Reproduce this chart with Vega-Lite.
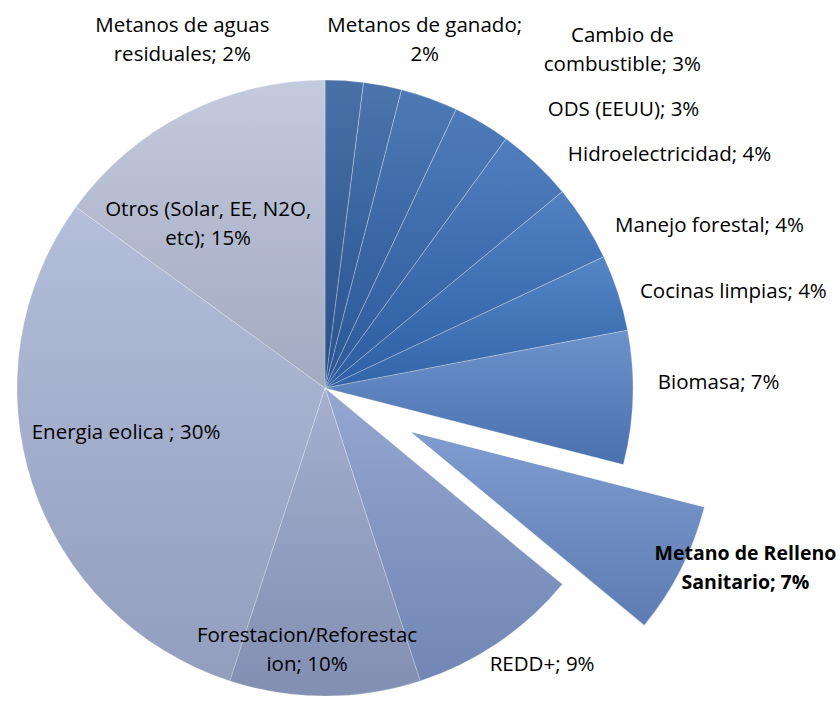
{
  "$schema": "https://vega.github.io/schema/vega-lite/v6.json",
  "width": 650,
  "height": 628,
  "autosize": "none",
  "padding": {"left": 0, "top": 74, "right": 190, "bottom": 0},
  "background": "white",
  "config": {"view": {"stroke": null}, "text": {"font": "Open Sans", "fontSize": 20.5, "lineHeight": 29, "color": "#000000"}},
  "data": {
    "values": [
      {"n": 1, "cat": "Metanos de aguas residuales", "value": 2, "label": "Metanos de aguas\nresiduales; 2%"},
      {"n": 2, "cat": "Metanos de ganado", "value": 2, "label": "Metanos de ganado;\n2%"},
      {"n": 3, "cat": "Cambio de combustible", "value": 3, "label": "Cambio de\ncombustible; 3%"},
      {"n": 4, "cat": "ODS (EEUU)", "value": 3, "label": "ODS (EEUU); 3%"},
      {"n": 5, "cat": "Hidroelectricidad", "value": 4, "label": "Hidroelectricidad; 4%"},
      {"n": 6, "cat": "Manejo forestal", "value": 4, "label": "Manejo forestal; 4%"},
      {"n": 7, "cat": "Cocinas limpias", "value": 4, "label": "Cocinas limpias; 4%"},
      {"n": 8, "cat": "Biomasa", "value": 7, "label": "Biomasa; 7%"},
      {"n": 9, "cat": "Metano de Relleno Sanitario", "value": 7, "label": "Metano de Relleno\nSanitario; 7%"},
      {"n": 10, "cat": "REDD+", "value": 9, "label": "REDD+; 9%"},
      {"n": 11, "cat": "Forestacion/Reforestacion", "value": 10, "label": "Forestacion/Reforestac\nion; 10%"},
      {"n": 12, "cat": "Energia eolica", "value": 30, "label": "Energia eolica ; 30%"},
      {"n": 13, "cat": "Otros (Solar, EE, N2O, etc)", "value": 15, "label": "Otros (Solar, EE, N2O,\netc); 15%"}
    ]
  },
  "transform": [
    {"stack": "value", "groupby": [], "sort": [{"field": "n", "order": "ascending"}], "as": ["v0", "v1"]},
    {"calculate": "(datum.v0 + datum.v1) / 2", "as": "mid"}
  ],
  "layer": [
    {
      "transform": [{"filter": "datum.cat !== 'Metano de Relleno Sanitario'"}],
      "mark": {"type": "arc", "radius": 308, "stroke": "#ffffff", "strokeWidth": 1, "strokeOpacity": 0.3},
      "encoding": {
        "theta": {"field": "v0", "type": "quantitative", "scale": {"domain": [0, 100]}},
        "theta2": {"field": "v1"},
        "color": {
          "field": "cat", "type": "nominal", "legend": null,
          "scale": {
            "domain": ["Metanos de aguas residuales", "Metanos de ganado", "Cambio de combustible", "ODS (EEUU)", "Hidroelectricidad", "Manejo forestal", "Cocinas limpias", "Biomasa", "Metano de Relleno Sanitario", "REDD+", "Forestacion/Reforestacion", "Energia eolica", "Otros (Solar, EE, N2O, etc)"],
            "range": ["#2c5a98", "#2e5e9f", "#3063a7", "#3266ad", "#3469b3", "#366db8", "#3a72bc", "#5581c3", "#6b8dc8", "#8399ca", "#96a3c7", "#a8b4d4", "#bac2d8"]
          }
        }
      }
    },
    {
      "transform": [{"filter": "datum.cat !== 'Metano de Relleno Sanitario'"}],
      "mark": {
        "type": "arc", "radius": 308,
        "fill": {"gradient": "linear", "x1": 0, "y1": 0, "x2": 0, "y2": 1, "stops": [{"offset": 0, "color": "rgba(255,255,255,0.14)"}, {"offset": 1, "color": "rgba(0,10,40,0.13)"}]}
      },
      "encoding": {
        "theta": {"field": "v0", "type": "quantitative"},
        "theta2": {"field": "v1"}
      }
    },
    {
      "transform": [{"filter": "datum.cat === 'Metano de Relleno Sanitario'"}],
      "mark": {"type": "arc", "radius": 308, "xOffset": 82, "yOffset": 42, "stroke": "#ffffff", "strokeWidth": 2},
      "encoding": {
        "theta": {"field": "v0", "type": "quantitative"},
        "theta2": {"field": "v1"},
        "color": {"field": "cat", "type": "nominal", "legend": null}
      }
    },
    {
      "transform": [{"filter": "datum.cat === 'Metano de Relleno Sanitario'"}],
      "mark": {
        "type": "arc", "radius": 308, "xOffset": 82, "yOffset": 42,
        "fill": {"gradient": "linear", "x1": 0, "y1": 0, "x2": 0, "y2": 1, "stops": [{"offset": 0, "color": "rgba(255,255,255,0.14)"}, {"offset": 1, "color": "rgba(0,10,40,0.13)"}]}
      },
      "encoding": {
        "theta": {"field": "v0", "type": "quantitative"},
        "theta2": {"field": "v1"}
      }
    },
    {
      "transform": [{"filter": "datum.n === 1"}],
      "mark": {"type": "text", "radius": 308, "align": "center", "baseline": "middle", "lineBreak": "\n", "dx": -162, "dy": -55},
      "encoding": {"theta": {"field": "mid", "type": "quantitative", "stack": false}, "text": {"field": "label"}}
    },
    {
      "transform": [{"filter": "datum.n === 2"}],
      "mark": {"type": "text", "radius": 308, "align": "center", "baseline": "middle", "lineBreak": "\n", "dx": 42, "dy": -59},
      "encoding": {"theta": {"field": "mid", "type": "quantitative", "stack": false}, "text": {"field": "label"}}
    },
    {
      "transform": [{"filter": "datum.n === 3"}],
      "mark": {"type": "text", "radius": 308, "align": "center", "baseline": "middle", "lineBreak": "\n", "dx": 193, "dy": -62},
      "encoding": {"theta": {"field": "mid", "type": "quantitative", "stack": false}, "text": {"field": "label"}}
    },
    {
      "transform": [{"filter": "datum.n === 4"}],
      "mark": {"type": "text", "radius": 308, "align": "left", "baseline": "middle", "dx": 66, "dy": -13},
      "encoding": {"theta": {"field": "mid", "type": "quantitative", "stack": false}, "text": {"field": "label"}}
    },
    {
      "transform": [{"filter": "datum.n === 5"}],
      "mark": {"type": "text", "radius": 308, "align": "left", "baseline": "middle", "dx": 32, "dy": -8},
      "encoding": {"theta": {"field": "mid", "type": "quantitative", "stack": false}, "text": {"field": "label"}}
    },
    {
      "transform": [{"filter": "datum.n === 6"}],
      "mark": {"type": "text", "radius": 308, "align": "left", "baseline": "middle", "dx": 30, "dy": 3},
      "encoding": {"theta": {"field": "mid", "type": "quantitative", "stack": false}, "text": {"field": "label"}}
    },
    {
      "transform": [{"filter": "datum.n === 7"}],
      "mark": {"type": "text", "radius": 308, "align": "left", "baseline": "middle", "dx": 22, "dy": -1},
      "encoding": {"theta": {"field": "mid", "type": "quantitative", "stack": false}, "text": {"field": "label"}}
    },
    {
      "transform": [{"filter": "datum.n === 8"}],
      "mark": {"type": "text", "radius": 308, "align": "left", "baseline": "middle", "dx": 25, "dy": -15},
      "encoding": {"theta": {"field": "mid", "type": "quantitative", "stack": false}, "text": {"field": "label"}}
    },
    {
      "transform": [{"filter": "datum.n === 9"}],
      "mark": {"type": "text", "radius": 308, "align": "center", "baseline": "middle", "lineBreak": "\n", "fontWeight": "bold", "fontSize": 19.5, "dx": 146, "dy": 26},
      "encoding": {"theta": {"field": "mid", "type": "quantitative", "stack": false}, "text": {"field": "label"}}
    },
    {
      "transform": [{"filter": "datum.n === 10"}],
      "mark": {"type": "text", "radius": 308, "align": "center", "baseline": "middle", "dx": 44, "dy": 22},
      "encoding": {"theta": {"field": "mid", "type": "quantitative", "stack": false}, "text": {"field": "label"}}
    },
    {
      "transform": [{"filter": "datum.n === 11"}],
      "mark": {"type": "text", "radius": 308, "align": "center", "baseline": "middle", "lineBreak": "\n", "dx": -18, "dy": -60},
      "encoding": {"theta": {"field": "mid", "type": "quantitative", "stack": false}, "text": {"field": "label"}}
    },
    {
      "transform": [{"filter": "datum.n === 12"}],
      "mark": {"type": "text", "radius": 308, "align": "center", "baseline": "middle", "dx": 94, "dy": -50},
      "encoding": {"theta": {"field": "mid", "type": "quantitative", "stack": false}, "text": {"field": "label"}}
    },
    {
      "transform": [{"filter": "datum.n === 13"}],
      "mark": {"type": "text", "radius": 308, "align": "center", "baseline": "middle", "lineBreak": "\n", "dx": 23, "dy": 96},
      "encoding": {"theta": {"field": "mid", "type": "quantitative", "stack": false}, "text": {"field": "label"}}
    }
  ]
}
